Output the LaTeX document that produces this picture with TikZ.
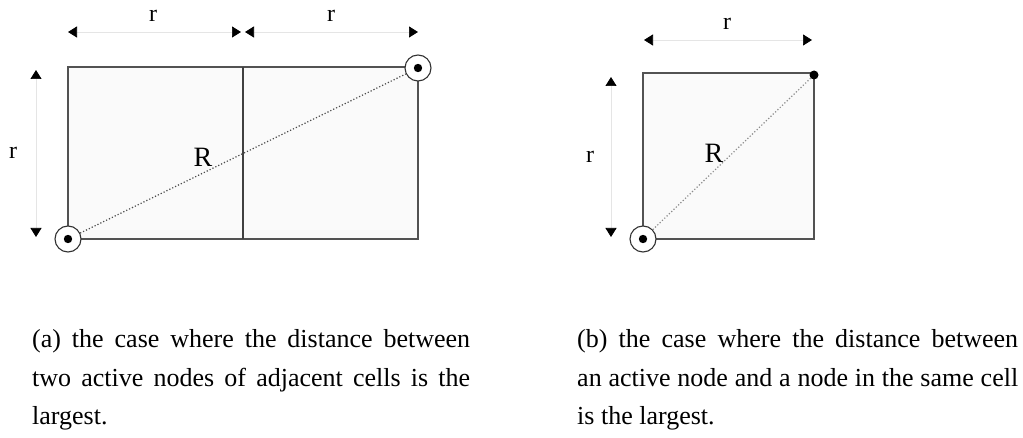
\documentclass[tikz,border=0pt]{standalone}
\usepackage{fontspec}
\setmainfont{Liberation Serif}
\usetikzlibrary{arrows.meta}

\begin{document}
\begin{tikzpicture}[x=1pt, y=-1pt,
  cell/.style={draw=black!68, line width=1.7pt, fill=black!2},
  sep/.style={draw=black!75, line width=1.5pt},
  dim/.style={black!10, line width=0.7pt,
    {Triangle[length=9pt,width=11pt,black]}-{Triangle[length=9pt,width=11pt,black]}},
  active/.style={circle, draw=black!80, line width=1.1pt, fill=white, minimum size=26pt, inner sep=0pt,
    path picture={\fill[black] (path picture bounding box.center) circle (4.2pt);}},
  plain/.style={circle, fill=black, minimum size=9pt, inner sep=0pt},
  lbl/.style={font=\fontsize{24}{24}\selectfont, inner sep=0pt},
  biglbl/.style={font=\fontsize{28}{28}\selectfont, inner sep=0pt},
  captext/.style={font=\fontsize{26}{26}\selectfont, inner sep=0pt, anchor=base west}]
  \useasboundingbox (0,0) rectangle (1023,438);

  % (a) two adjacent cells
  \draw[cell] (68,67) rectangle (418,239);
  \draw[sep] (243,67) -- (243,239);
  \node[active] (a1) at (68,239) {};
  \node[active] (a2) at (418,68) {};
  \draw[black!70, line width=1.2pt, dotted] (a1) -- (a2);
  \node[biglbl] (Ra) at (203,157) {R};
  % dimensions (a)
  \draw[dim] (68,32) -- (241,32);
  \draw[dim] (245,32) -- (418,32);
  \draw[dim] (36,70) -- (36,237);
  \node[lbl] (ra1) at (153,16) {r};
  \node[lbl] (ra2) at (331,16) {r};
  \node[lbl] (ra3) at (13,153) {r};

  % (b) one cell
  \draw[cell] (643,73) rectangle (814,239);
  \node[active] (b1) at (643,239) {};
  \node[plain] (b2) at (814,75) {};
  \draw[black!45, line width=1.2pt, dotted] (b1) -- (b2);
  \node[biglbl] (Rb) at (714,153) {R};
  % dimensions (b)
  \draw[dim] (644,40) -- (812,40);
  \draw[dim] (611,77) -- (611,237);
  \node[lbl] (rb1) at (727,24) {r};
  \node[lbl] (rb2) at (590,157) {r};

  % Captions
  \node[captext] (ca1) at (32,348) {\makebox[438pt][s]{(a) the case where the distance between}};
  \node[captext] (ca2) at (32,386) {\makebox[438pt][s]{two active nodes of adjacent cells is the}};
  \node[captext] (ca3) at (32,424) {largest.};
  \node[captext] (cb1) at (577,348) {\makebox[441pt][s]{(b) the case where the distance between}};
  \node[captext] (cb2) at (577,386) {\makebox[441pt][s]{an active node and a node in the same cell}};
  \node[captext] (cb3) at (577,424) {is the largest.};
\end{tikzpicture}
\end{document}
